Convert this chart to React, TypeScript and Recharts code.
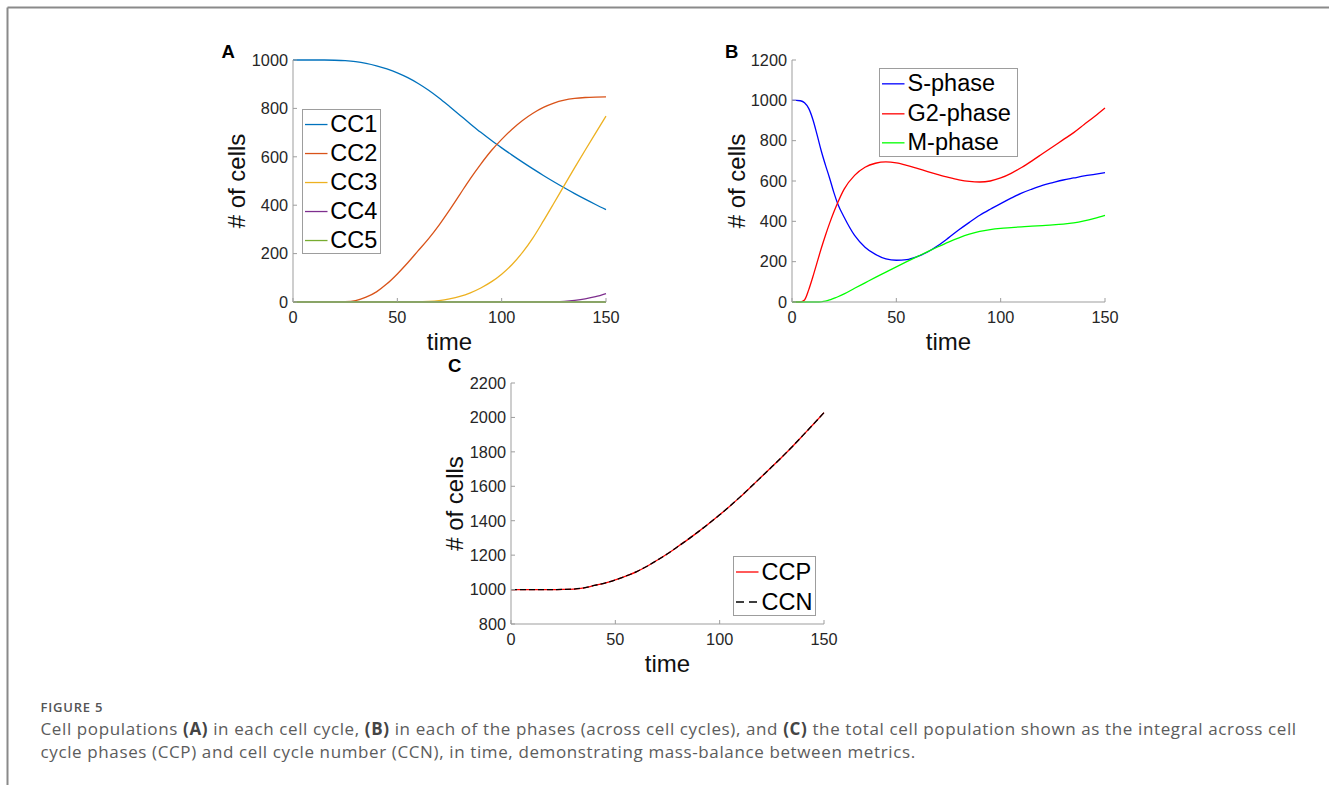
import React from 'react';
import { LineChart, Line, XAxis, YAxis, Legend } from 'recharts';

// Panel A: cells in each cell cycle
const TIME_A = [0, 5, 10, 15, 20, 25, 30, 35, 40, 45, 50, 55, 60, 65, 70, 75, 80, 85, 90, 95, 100, 105, 110, 115, 120, 125, 130, 135, 140, 145, 150];
const CC1 = [1000, 1000, 1000, 1000, 999, 997, 993, 986, 976, 963, 947, 927, 903, 875, 843, 808, 772, 736, 701, 668, 637, 607, 578, 550, 523, 497, 472, 448, 425, 403, 382];
const CC2 = [0, 0, 0, 0, 0, 1, 6, 20, 42, 75, 116, 162, 212, 262, 318, 380, 445, 510, 570, 625, 672, 714, 750, 780, 804, 822, 834, 841, 845, 847, 848];
const CC3 = [0, 0, 0, 0, 0, 0, 0, 0, 0, 0, 0, 0, 0, 2, 6, 13, 23, 38, 58, 83, 115, 155, 205, 265, 335, 408, 482, 555, 627, 698, 768];
const CC4 = [0, 0, 0, 0, 0, 0, 0, 0, 0, 0, 0, 0, 0, 0, 0, 0, 0, 0, 0, 0, 0, 0, 0, 0, 0, 1, 3, 7, 13, 22, 35];
const CC5 = [0, 0, 0, 0, 0, 0, 0, 0, 0, 0, 0, 0, 0, 0, 0, 0, 0, 0, 0, 0, 0, 0, 0, 0, 0, 0, 0, 0, 0, 0, 0];
const NAMES_A = ['CC1', 'CC2', 'CC3', 'CC4', 'CC5'];

// Panel B: cells in each phase
const TIME_B = [0, 2, 4, 6, 8, 10, 12, 14, 16, 18, 20, 22, 25, 30, 35, 40, 45, 50, 55, 60, 65, 70, 75, 80, 85, 90, 95, 100, 105, 110, 115, 120, 125, 130, 135, 140, 145, 150];
const S_PHASE = [1000, 1000, 998, 988, 960, 905, 830, 750, 680, 615, 545, 485, 420, 330, 272, 236, 214, 207, 210, 225, 248, 280, 318, 358, 395, 430, 460, 488, 515, 540, 560, 578, 592, 605, 615, 625, 633, 641];
const G2_PHASE = [0, 0, 0, 10, 60, 125, 195, 265, 330, 390, 445, 495, 560, 628, 668, 688, 695, 690, 678, 663, 647, 632, 618, 606, 598, 595, 600, 615, 638, 667, 700, 735, 770, 805, 840, 880, 920, 962];
const M_PHASE = [0, 0, 0, 0, 0, 0, 0, 1, 4, 10, 18, 26, 40, 68, 95, 122, 148, 174, 200, 225, 250, 274, 297, 318, 336, 350, 359, 365, 369, 373, 376, 379, 382, 386, 392, 402, 415, 430];
const NAMES_B = ['S-phase', 'G2-phase', 'M-phase'];

// Panel C: total population, two ways of counting
const TIME_C = [0, 5, 10, 15, 20, 25, 30, 35, 40, 45, 50, 55, 60, 65, 70, 75, 80, 85, 90, 95, 100, 105, 110, 115, 120, 125, 130, 135, 140, 145, 150];
const CCP = [1000, 1000, 1000, 1000, 1000, 1001, 1003, 1010, 1024, 1038, 1056, 1078, 1103, 1134, 1170, 1208, 1250, 1293, 1338, 1385, 1434, 1486, 1540, 1597, 1655, 1713, 1772, 1833, 1897, 1962, 2028];
const CCN = [1000, 1000, 1000, 1000, 1000, 1001, 1003, 1010, 1024, 1038, 1056, 1078, 1103, 1134, 1170, 1208, 1250, 1293, 1338, 1385, 1434, 1486, 1540, 1597, 1655, 1713, 1772, 1833, 1897, 1962, 2028];
const NAMES_C = ['CCP', 'CCN'];

const TICKS_X = [0, 50, 100, 150];
const TICKS_A = [0, 200, 400, 600, 800, 1000];
const TICKS_B = [0, 200, 400, 600, 800, 1000, 1200];
const TICKS_C = [800, 1000, 1200, 1400, 1600, 1800, 2000, 2200];

const dataA = TIME_A.map((t, i) => ({ t, cc1: CC1[i], cc2: CC2[i], cc3: CC3[i], cc4: CC4[i], cc5: CC5[i] }));
const dataB = TIME_B.map((t, i) => ({ t, s: S_PHASE[i], g2: G2_PHASE[i], m: M_PHASE[i] }));
const dataC = TIME_C.map((t, i) => ({ t, ccp: CCP[i], ccn: CCN[i] }));

const FONT = '"Liberation Sans", Arial, Helvetica, sans-serif';
const AXIS_GRAY = '#9d9d9d';
const TICK = { fill: '#262626', fontSize: 16.3, fontFamily: FONT };
const TITLE = { fill: '#111', fontSize: 24, fontFamily: FONT };

// boxed legend; dashed series get a short "- -" sample
const BoxLegend = (props: any) => {
  const { payload = [], rowH } = props;
  return (
    <div style={{ boxSizing: 'border-box', height: '100%', border: '1px solid #9d9d9d', background: '#fff', fontFamily: FONT, fontSize: 23.5, color: '#000' }}>
      {payload.map((entry: any) => (
        <div key={entry.value} style={{ display: 'flex', alignItems: 'center', height: rowH }}>
          <svg width={27.5} height={rowH} style={{ flex: 'none' }}>
            <line x1={2} x2={24.5} y1={rowH / 2} y2={rowH / 2} stroke={entry.color} strokeWidth={1.3} strokeDasharray={entry.payload?.strokeDasharray ? '8 5' : undefined} />
          </svg>
          <span style={{ lineHeight: `${rowH}px`, whiteSpace: 'nowrap' }}>{entry.value}</span>
        </div>
      ))}
    </div>
  );
};

const axisProps = {
  stroke: AXIS_GRAY,
  tick: TICK,
  tickSize: -4,
};

const Panel = ({ left, top, data, yDomain, yTicks, yLabelOffset, legendBox, rowH, names, bottom = 68, children }: any) => (
  <div style={{ position: 'absolute', left, top }}>
    <LineChart width={420} height={330} data={data} margin={{ top: 20, right: 27, left: 0, bottom: 0 }}>
      <XAxis
        dataKey="t"
        type="number"
        domain={[0, 150]}
        ticks={TICKS_X}
        height={bottom}
        tickMargin={13}
        {...axisProps}
        label={{ value: 'time', position: 'insideTop', offset: 31, style: TITLE }}
      />
      <YAxis
        type="number"
        domain={yDomain}
        ticks={yTicks}
        width={80}
        tickMargin={9}
        {...axisProps}
        label={{ value: '# of cells', angle: -90, position: 'insideLeft', offset: yLabelOffset, style: { ...TITLE, textAnchor: 'middle' } }}
      />
      <Legend
        layout="vertical"
        align="center"
        verticalAlign="middle"
        itemSorter={(item: any) => names.indexOf(item.value)}
        wrapperStyle={{ ...legendBox }}
        content={(p: any) => <BoxLegend {...p} rowH={rowH} />}
      />
      {children}
    </LineChart>
  </div>
);

const lineProps = { type: 'monotone' as const, dot: false, strokeWidth: 1.3, isAnimationActive: false, activeDot: false };

export default function App() {
  return (
    <div style={{ position: 'absolute', left: 0, top: 0, width: 1329, height: 785, background: '#fff', overflow: 'hidden' }}>
      <svg width={1329} height={785} style={{ position: 'absolute', left: 0, top: 0 }}>
        <line x1={7.5} x2={1329} y1={7.5} y2={7.5} stroke="#8a8a8a" strokeWidth={2} />
        <line x1={7.5} x2={7.5} y1={7.5} y2={785} stroke="#8a8a8a" strokeWidth={2} />
        <g fontFamily={FONT} fontWeight={700} fontSize={18.5} fill="#000">
          <text x={221.5} y={58.3}>A</text>
          <text x={725} y={58}>B</text>
          <text x={448} y={372}>C</text>
        </g>
        <text x={40.5} y={712} fontFamily='"Open Sans", sans-serif' fontSize={13} fontWeight={600} fill="#555" letterSpacing={0.8}>FIGURE 5</text>
        <g fontFamily='"Open Sans", sans-serif' fontSize={17} fill="#5c5c5c" letterSpacing={0.62}>
          <text x={40.5} y={735}>
            Cell populations <tspan fontWeight={700} fill="#444">(A)</tspan> in each cell cycle, <tspan fontWeight={700} fill="#444">(B)</tspan> in each of the phases (across cell cycles), and <tspan fontWeight={700} fill="#444">(C)</tspan> the total cell population shown as the integral across cell
          </text>
          <text x={40.5} y={757.7}>
            cycle phases (CCP) and cell cycle number (CCN), in time, demonstrating mass-balance between metrics.
          </text>
        </g>
      </svg>

      <Panel left={213} top={40} data={dataA} yDomain={[0, 1000]} yTicks={TICKS_A} yLabelOffset={23.5} names={NAMES_A}
        legendBox={{ left: 88.7, top: 68.7, width: 79.3, height: 145.3 }} rowH={29.06}>
        <Line dataKey="cc1" name="CC1" stroke="#0072BD" {...lineProps} />
        <Line dataKey="cc2" name="CC2" stroke="#D95319" {...lineProps} />
        <Line dataKey="cc3" name="CC3" stroke="#EDB120" {...lineProps} />
        <Line dataKey="cc4" name="CC4" stroke="#7E2F8E" {...lineProps} />
        <Line dataKey="cc5" name="CC5" stroke="#77AC30" {...lineProps} strokeWidth={2} />
      </Panel>

      <Panel left={712} top={40} data={dataB} yDomain={[0, 1200]} yTicks={TICKS_B} yLabelOffset={24.5} names={NAMES_B}
        legendBox={{ left: 167, top: 28, width: 139, height: 89 }} rowH={29.67}>
        <Line dataKey="s" name="S-phase" stroke="#0000FF" {...lineProps} />
        <Line dataKey="g2" name="G2-phase" stroke="#FF0000" {...lineProps} />
        <Line dataKey="m" name="M-phase" stroke="#00FF00" {...lineProps} />
      </Panel>

      <Panel left={431} top={363} data={dataC} yDomain={[800, 2200]} yTicks={TICKS_C} yLabelOffset={23} bottom={69} names={NAMES_C}
        legendBox={{ left: 302, top: 193, width: 83, height: 60 }} rowH={30}>
        <Line dataKey="ccp" name="CCP" stroke="#FF0000" {...lineProps} />
        <Line dataKey="ccn" name="CCN" stroke="#000000" strokeDasharray="6 3" {...lineProps} />
      </Panel>
    </div>
  );
}
